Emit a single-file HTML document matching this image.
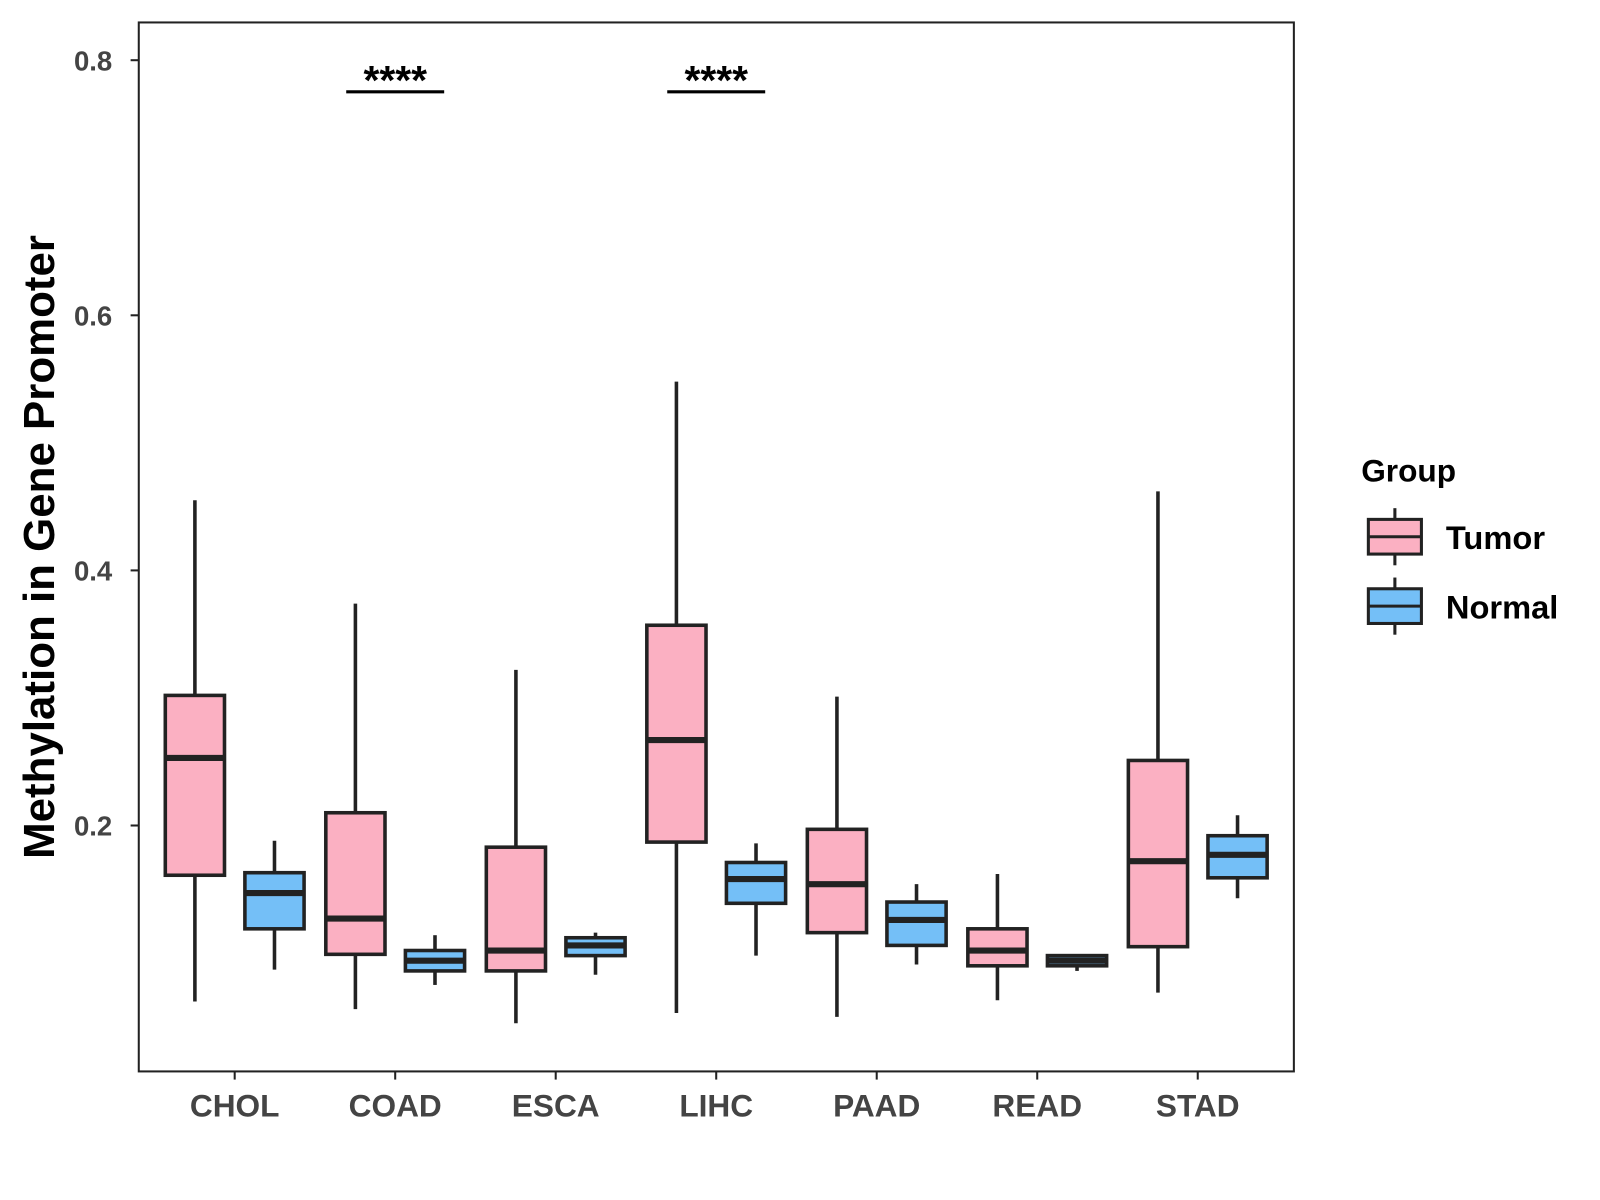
<!DOCTYPE html>
<html><head><meta charset="utf-8"><style>
body{margin:0;background:#fff}
svg{display:block}
text{font-family:"Liberation Sans",Arial,sans-serif;font-weight:bold}
</style></head><body>
<svg id="chart" width="1600" height="1200">
<g transform="scale(1.0204)">
<rect x="136" y="22" width="1132" height="1028" fill="#fff" stroke="#222" stroke-width="2"/>
<g id="marks"></g>
<text transform="translate(53,536) rotate(-90)" text-anchor="middle" font-size="43" fill="#000">Methylation in Gene Promoter</text>
<g>
<text x="1334" y="472" font-size="31" fill="#000">Group</text>
<g>
<line x1="1367" y1="498" x2="1367" y2="554" stroke="#222" stroke-width="3"/>
<rect x="1341" y="509" width="52" height="34" fill="#FBB0C2" stroke="#222" stroke-width="3"/>
<line x1="1341" y1="526" x2="1393" y2="526" stroke="#222" stroke-width="3"/>
<text x="1417" y="538" font-size="32" fill="#000">Tumor</text></g>
<g>
<line x1="1367" y1="566" x2="1367" y2="622" stroke="#222" stroke-width="3"/>
<rect x="1341" y="577" width="52" height="34" fill="#74BFF7" stroke="#222" stroke-width="3"/>
<line x1="1341" y1="594" x2="1393" y2="594" stroke="#222" stroke-width="3"/>
<text x="1417" y="606" font-size="32" fill="#000">Normal</text></g>
</g>
</g>
</svg>
<script>
const categories=["CHOL","COAD","ESCA","LIHC","PAAD","READ","STAD"];
const tumorStats=[[0.062,0.161,0.253,0.302,0.455],[0.056,0.099,0.127,0.210,0.374],[0.045,0.086,0.102,0.183,0.322],[0.053,0.187,0.267,0.357,0.548],[0.050,0.116,0.154,0.197,0.301],[0.063,0.090,0.102,0.119,0.162],[0.069,0.105,0.172,0.251,0.462]];
const normalStats=[[0.087,0.119,0.147,0.163,0.188],[0.075,0.086,0.094,0.102,0.114],[0.083,0.098,0.106,0.112,0.116],[0.098,0.139,0.158,0.171,0.186],[0.091,0.106,0.126,0.140,0.154],[0.086,0.090,0.094,0.098,0.099],[0.143,0.159,0.177,0.192,0.208]];
const yTicks=[0.2,0.4,0.6,0.8];
const sigCategories=["COAD","LIHC"];
const sigLabels=["****","****"];
const NS="http://www.w3.org/2000/svg";
const g=document.getElementById('marks');
const yS=v=>809-(v-0.2)*1250;
const xS=i=>230+i*157.3;
function mk(t,a,p){const e=document.createElementNS(NS,t);for(const k in a)e.setAttribute(k,a[k]);(p||g).appendChild(e);return e;}
yTicks.forEach(t=>{
 const l=mk('line',{x1:128,x2:136,y1:yS(t),y2:yS(t),stroke:'#222','stroke-width':2});
 
 
 const tx=mk('text',{x:110,y:yS(t)+10,'text-anchor':'end','font-size':27,fill:'#444'});tx.textContent=t.toFixed(1);
 
 
});
categories.forEach((c,i)=>{
 const l=mk('line',{x1:xS(i),x2:xS(i),y1:1050,y2:1058,stroke:'#222','stroke-width':2});
 
 
 const tx=mk('text',{x:xS(i),y:1094,'text-anchor':'middle','font-size':31,fill:'#444'});tx.textContent=c;
 
 
});
function box(cx,s,fill,name){
 const gg=mk('g',{});
 
 
 mk('line',{x1:cx,x2:cx,y1:yS(s[0]),y2:yS(s[4]),stroke:'#222','stroke-width':3.5},gg);
 mk('rect',{x:cx-29,y:yS(s[3]),width:58,height:yS(s[1])-yS(s[3]),fill:fill,stroke:'#222','stroke-width':3.5},gg);
 mk('line',{x1:cx-29,x2:cx+29,y1:yS(s[2]),y2:yS(s[2]),stroke:'#222','stroke-width':6},gg);
}
categories.forEach((c,i)=>{
 box(xS(i)-39,tumorStats[i],'#FBB0C2','box-tumor-'+c.toLowerCase());
 box(xS(i)+39,normalStats[i],'#74BFF7','box-normal-'+c.toLowerCase());
});
sigCategories.forEach((c,k)=>{
 const i=categories.indexOf(c);
 const l=mk('line',{x1:xS(i)-48,x2:xS(i)+48,y1:90,y2:90,stroke:'#000','stroke-width':3});
 
 
 const t=mk('text',{x:xS(i),y:92,'text-anchor':'middle','font-size':40,fill:'#000'});t.textContent=sigLabels[k];
 
 
});
</script>
</body></html>
